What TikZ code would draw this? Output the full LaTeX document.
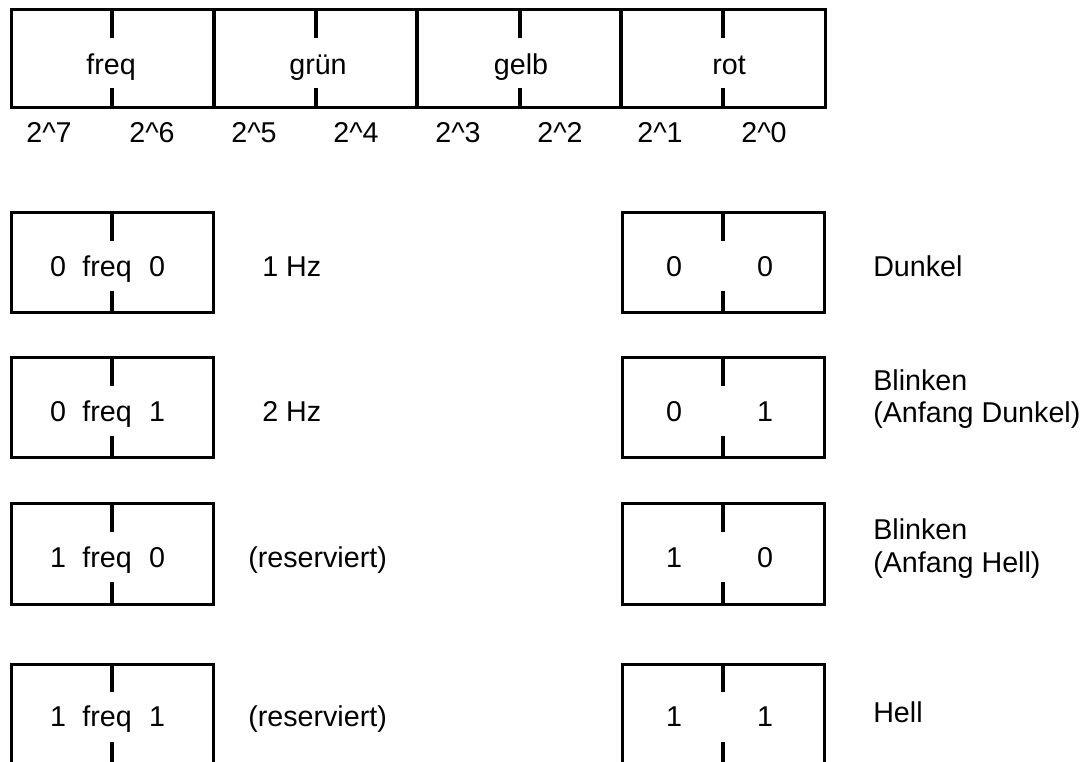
\documentclass[tikz,border=0pt]{standalone}
\usepackage{fontspec}
\setmainfont{Liberation Sans}
\begin{document}
\begin{tikzpicture}[x=0.75pt,y=-0.75pt,
  frame/.style={line width=2.25pt},
  tickline/.style={line width=3pt},
  txt/.style={anchor=base,inner sep=0pt,font=\fontsize{21.5}{25}\selectfont},
  lbl/.style={anchor=base west,inner sep=0pt,align=left,font=\fontsize{21.5}{24.5}\selectfont}]
\useasboundingbox (0,0) rectangle (1085,762);
\clip (0,0) rectangle (1085,762);
% register
\draw[frame] (11,10) rectangle (825,108);
\foreach \x in {214,417,621} \draw[tickline] (\x,10) -- (\x,108);
\foreach \x in {112,316,520,723} {
  \draw[tickline] (\x,10) -- (\x,38);
  \draw[tickline] (\x,88) -- (\x,108);
}
\node[txt] (f) at (111,75) {freq};
\node[txt] (g) at (318,75) {grün};
\node[txt] (y) at (521,75) {gelb};
\node[txt] (r) at (729,75) {rot};
\foreach \x/\e in {49/7,152/6,254/5,356/4,458/3,560/2,660/1,764/0}
  \node[txt] (p\e) at (\x,143) {2\textasciicircum\e};
% small boxes
\foreach \t in {213,358,504,664} {
  \draw[frame] (11,\t) rectangle (213,\t+100);
  \draw[tickline] (112,\t) -- (112,\t+28);
  \draw[tickline] (112,\t+78) -- (112,\t+100);
  \draw[frame] (622,\t) rectangle (824,\t+100);
  \draw[tickline] (723,\t) -- (723,\t+28);
  \draw[tickline] (723,\t+78) -- (723,\t+100);
}
% left texts
\foreach \b/\a/\c/\i in {277/0/0/1,422/0/1/2,567/1/0/3,726/1/1/4} {
  \node[txt] (la\i) at (58,\b) {\a};
  \node[txt] (lf\i) at (107,\b) {freq};
  \node[txt] (lc\i) at (157,\b) {\c};
}
\node[lbl] (hz1) at (262,277) {1 Hz};
\node[lbl] (hz2) at (262,422) {2 Hz};
\node[lbl] (res1) at (248,567) {(reserviert)};
\node[lbl] (res2) at (248,726) {(reserviert)};
% right texts
\foreach \b/\a/\c/\i in {277/0/0/1,422/0/1/2,567/1/0/3,726/1/1/4} {
  \node[txt] (ra\i) at (674,\b) {\a};
  \node[txt] (rc\i) at (765,\b) {\c};
}
\node[lbl] (dk) at (873,277) {Dunkel};
\node[lbl] (bd) at (873,423) {Blinken\\(Anfang Dunkel)};
\node[lbl] (bh) at (873,572) {Blinken\\(Anfang Hell)};
\node[lbl] (hl) at (873,722) {Hell};
\end{tikzpicture}
\end{document}
